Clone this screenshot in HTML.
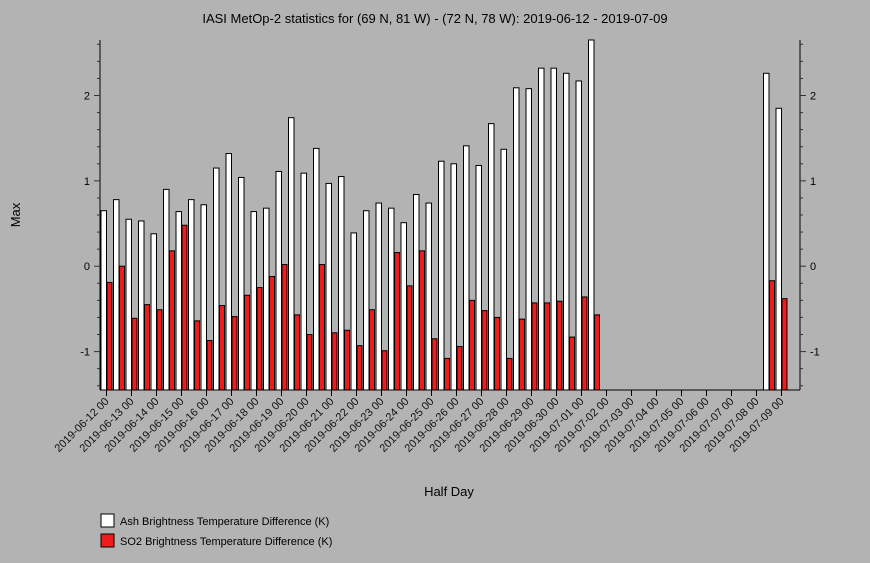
<!DOCTYPE html>
<html><head><meta charset="utf-8"><style>
body{margin:0;background:#b3b3b3;}
svg{display:block;font-family:"Liberation Sans",sans-serif;}
</style></head><body>
<svg id="chart" width="870" height="563" viewBox="0 0 870 563">
<rect width="870" height="563" fill="#b3b3b3"/>
<text x="435" y="23" text-anchor="middle" font-size="13" fill="#000">IASI MetOp-2 statistics for (69 N, 81 W) - (72 N, 78 W): 2019-06-12 - 2019-07-09</text>
<text transform="translate(20,215) rotate(-90)" text-anchor="middle" font-size="13">Max</text>
<text x="449" y="496" text-anchor="middle" font-size="13">Half Day</text>
<g id="bars"></g>
<g id="axes"></g>
<g>
<rect x="101" y="514" width="13" height="13" fill="#fff" stroke="#000"/>
<text x="120" y="525" font-size="11">Ash Brightness Temperature Difference (K)</text>
<rect x="101" y="534" width="13" height="13" fill="#ee1c1c" stroke="#000"/>
<text x="120" y="545" font-size="11">SO2 Brightness Temperature Difference (K)</text>
</g>
</svg>
<script>
const dayLabels=["2019-06-12 00","2019-06-13 00","2019-06-14 00","2019-06-15 00","2019-06-16 00","2019-06-17 00","2019-06-18 00","2019-06-19 00","2019-06-20 00","2019-06-21 00","2019-06-22 00","2019-06-23 00","2019-06-24 00","2019-06-25 00","2019-06-26 00","2019-06-27 00","2019-06-28 00","2019-06-29 00","2019-06-30 00","2019-07-01 00","2019-07-02 00","2019-07-03 00","2019-07-04 00","2019-07-05 00","2019-07-06 00","2019-07-07 00","2019-07-08 00","2019-07-09 00"];
const ashValues=[0.65,0.78,0.55,0.53,0.38,0.90,0.64,0.78,0.72,1.15,1.32,1.04,0.64,0.68,1.11,1.74,1.09,1.38,0.97,1.05,0.39,0.65,0.74,0.68,0.51,0.84,0.74,1.23,1.20,1.41,1.18,1.67,1.37,2.09,2.08,2.32,2.32,2.26,2.17,2.7,null,null,null,null,null,null,null,null,null,null,null,null,null,2.26,1.85];
const so2Values=[-0.19,0.00,-0.61,-0.45,-0.51,0.18,0.48,-0.64,-0.87,-0.46,-0.59,-0.34,-0.25,-0.12,0.02,-0.57,-0.80,0.02,-0.78,-0.75,-0.93,-0.51,-0.99,0.16,-0.23,0.18,-0.85,-1.08,-0.94,-0.40,-0.52,-0.60,-1.08,-0.62,-0.43,-0.43,-0.41,-0.83,-0.36,-0.57,null,null,null,null,null,null,null,null,null,null,null,null,null,-0.17,-0.38];
const yTicks=[-1,0,1,2];

const NS="http://www.w3.org/2000/svg";
const L=100,R=800,T=40,B=390,yMin=-1.45,yMax=2.65;
const y=v=>B-(v-yMin)/(yMax-yMin)*(B-T);
const x=i=>106.5+12.5*i;
function mk(tag,attrs,parent){const e=document.createElementNS(NS,tag);for(const k in attrs)e.setAttribute(k,attrs[k]);parent.appendChild(e);return e;}
const bars=document.getElementById('bars'),axes=document.getElementById('axes');
ashValues.forEach((v,i)=>{
  if(v===null)return;
  const top=Math.max(T,y(v));
  const r=mk('rect',{x:x(i)-5.5,y:top,width:5.5,height:B-top,fill:'#fff',stroke:'#000','stroke-width':1},bars);
  
  
});
so2Values.forEach((v,i)=>{
  if(v===null)return;
  const top=Math.max(T,y(v));
  const r=mk('rect',{x:x(i)+0.5,y:top,width:5,height:B-top,fill:'#ee1c1c',stroke:'#000','stroke-width':1},bars);
  
  
});
const la=mk('line',{x1:L,y1:T,x2:L,y2:B,stroke:'#000'},axes);


const ra=mk('line',{x1:R,y1:T,x2:R,y2:B,stroke:'#000'},axes);


const xa=mk('line',{x1:L,y1:B,x2:R,y2:B,stroke:'#000'},axes);


for(let k=-7;k<=13;k++){
  const v=k*0.2,yy=y(v);
  if(yy<T-0.5||yy>B)continue;
  const major=Math.abs(v-Math.round(v))<1e-6;
  const len=major?6:3;
  mk('line',{x1:L-len,y1:yy,x2:L,y2:yy,stroke:'#333'},axes);
  mk('line',{x1:R,y1:yy,x2:R+len,y2:yy,stroke:'#333'},axes);
}
yTicks.forEach(v=>{
  const t1=mk('text',{x:L-10,y:y(v)+4,'text-anchor':'end','font-size':11},axes);
  t1.textContent=v;
  
  
  const t2=mk('text',{x:R+10,y:y(v)+4,'font-size':11},axes);
  t2.textContent=v;
  
  
});
dayLabels.forEach((lab,d)=>{
  const xx=x(d*2);
  mk('line',{x1:xx,y1:B,x2:xx,y2:B+6,stroke:'#000'},axes);
  const t=mk('text',{transform:`translate(${xx+3},${B+12}) rotate(-45)`,'text-anchor':'end','font-size':11,fill:'#111'},axes);
  t.textContent=lab;
  
  
});
</script>
</body></html>
